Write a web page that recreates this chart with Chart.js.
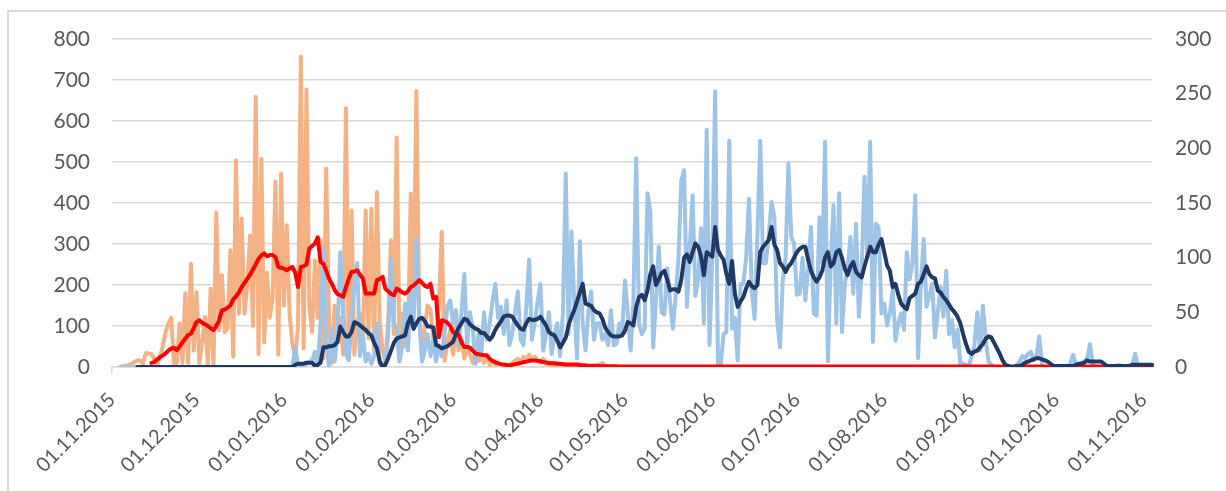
<!DOCTYPE html>
<html>
<head>
<meta charset="utf-8">
<script src="https://cdn.jsdelivr.net/npm/chart.js@4.4.1/dist/chart.umd.min.js"></script>
<style>
  html, body { margin: 0; padding: 0; background: #fff; overflow: hidden; }
  #frame { position: absolute; left: 7px; top: 10px; width: 1240px; height: 500px; border: 2px solid #d9d9d9; box-sizing: border-box; }
  #chart { position: absolute; left: 0; top: 0; }
</style>
</head>
<body>
<div id="frame"></div>
<canvas id="chart" width="1226" height="491"></canvas>
<script>
// daily values, 01.11.2015 .. 04.11.2016 (370 days)

// left axis: daily (orange) and its running average (red)
const orangeDaily = [
  null,null,null,0,2,3,5,8,12,16,
  16,8,34,33,31,20,2,25,50,85,
  105,120,8,10,106,10,180,10,252,40,
  183,10,60,122,5,191,0,376,90,224,
  85,95,285,25,504,130,362,130,200,321,
  100,659,32,508,60,230,120,170,452,30,
  472,150,346,130,57,20,100,757,45,677,
  150,85,260,120,311,20,484,114,10,150,
  60,120,30,631,20,382,30,110,130,60,
  382,70,386,40,427,110,40,15,110,309,
  80,560,55,130,50,60,423,170,673,130,
  25,100,150,140,70,65,150,330,15,60,
  90,30,100,40,70,20,50,30,10,40,
  15,25,10,30,5,15,5,10,3,5,
  2,5,10,15,20,10,25,15,30,20,
  25,15,10,20,8,5,3,5,2,0,
  0,2,0,0,1,0,0,2,0,0,
  0,0,3,6,10,2,0,0,0,0,
  0,0,0,0,0,0,0,0,0,0,
  0,0,0,0,0,0,0,0,0,0,
  0,0,0,0,0,0,0,0,0,0,
  0,0,0,0,0,0,0,0,0,0,
  0,0,0,0,0,0,0,0,0,0,
  0,0,0,0,0,0,0,0,0,0,
  0,0,0,0,0,0,0,0,0,0,
  0,0,0,0,0,0,0,0,0,0,
  0,0,0,0,0,0,0,0,0,0,
  0,0,0,0,0,0,0,0,0,0,
  0,0,0,0,0,0,0,0,0,0,
  0,0,0,0,0,0,0,0,0,0,
  0,0,0,0,0,0,0,0,0,0,
  0,0,0,0,0,0,0,0,0,0,
  0,0,0,0,0,0,0,0,0,0,
  0,0,0,0,0,0,0,0,0,0,
  0,0,0,0,0,0,0,0,0,0,
  0,0,0,0,0,0,2,5,4,1,
  0,0,0,0,0,0,0,0,0,0
];

const redAvg = [
  null,null,null,null,null,null,null,null,null,null,
  null,null,null,null,10,12,18,24,28,33,
  40,45,47,41,50,60,69,78,81,95,
  110,114,108,104,100,95,90,100,114,138,
  140,145,150,165,172,182,195,205,215,225,
  238,250,264,272,277,270,273,273,268,244,
  242,240,236,240,244,230,195,244,246,250,
  289,295,301,316,256,252,235,215,203,188,
  178,175,171,195,215,232,233,236,225,216,
  179,179,179,179,212,215,220,191,185,178,
  175,191,187,182,179,185,195,199,205,212,
  205,198,195,203,167,171,73,114,112,108,
  100,85,83,79,60,49,49,47,40,33,
  31,30,29,28,20,15,12,9,7,6,
  5,4,5,7,8,10,12,13,15,16,
  16,15,14,12,11,10,9,9,8,8,
  7,6,6,6,6,6,5,4,4,3,
  3,3,3,2,2,2,2,2,2,2,
  1,1,1,1,1,1,1,1,1,1,
  1,1,1,1,1,1,1,1,1,1,
  1,1,1,1,1,1,1,1,1,1,
  1,1,1,1,1,1,1,1,1,1,
  1,1,1,1,1,1,1,1,1,1,
  1,1,1,1,1,1,1,1,1,1,
  1,1,1,1,1,1,1,1,1,1,
  1,1,1,1,1,1,1,1,1,1,
  1,1,1,1,1,1,1,1,1,1,
  1,1,1,1,1,1,1,1,1,1,
  1,1,1,1,1,1,1,1,1,1,
  1,1,1,1,1,1,1,1,1,1,
  1,1,1,1,1,1,1,1,1,1,
  1,1,1,1,1,1,1,1,1,1,
  1,1,1,1,1,1,1,1,1,1,
  1,1,1,1,1,1,1,1,1,1,
  1,1,1,1,1,1,1,1,1,1,
  1,1,1,1,1,1,2,2,2,2,
  2,1,1,1,1,1,1,1,1,1
];

// right axis: daily (light blue) and its running average (dark blue)
const blueDaily = [
  null,null,null,0,0,0,0,0,0,0,
  0,0,0,0,0,0,0,0,0,0,
  0,0,0,0,0,0,0,0,0,0,
  0,0,0,0,0,0,0,0,0,0,
  0,0,0,0,0,0,0,0,0,0,
  0,0,0,0,0,0,0,0,0,0,
  0,0,0,0,0,18,2,0,0,3,
  5,6,14,2,40,108,25,0,34,5,
  30,105,50,12,6,40,76,95,10,30,
  5,12,3,10,40,3,0,5,30,98,
  40,35,5,20,58,15,70,40,117,45,
  5,15,30,10,25,5,20,10,30,55,
  61,40,52,20,50,85,20,50,35,3,
  30,10,50,25,40,60,76,45,55,30,
  61,20,30,50,69,25,20,55,98,25,
  40,60,76,15,30,50,12,30,40,10,
  50,177,30,124,60,8,115,40,15,50,
  69,25,40,40,25,30,20,52,20,21,
  40,30,79,50,15,60,191,40,30,35,
  159,143,18,60,110,50,48,90,60,35,
  65,100,171,180,55,110,157,65,80,127,
  40,217,20,100,252,2,3,30,32,207,
  35,45,6,76,76,100,154,70,44,120,
  207,95,95,120,151,137,43,18,79,100,
  186,119,113,66,67,100,61,90,128,49,
  47,137,95,206,5,95,148,40,159,32,
  76,90,119,67,131,46,88,174,100,206,
  23,131,128,49,58,38,49,70,24,40,
  49,34,105,80,95,157,8,76,117,55,
  65,76,27,50,73,46,88,30,43,18,
  34,3,3,2,0,10,20,50,15,56,
  25,5,2,0,0,0,0,0,0,0,
  0,2,5,10,8,12,14,6,10,28,
  2,0,0,0,0,0,0,0,0,0,
  3,11,2,0,4,5,8,21,2,0,
  0,0,0,0,0,0,0,0,0,0,
  0,0,2,12,1,0,0,0,0,0
];

const blueAvg = [
  null,null,null,null,null,null,null,null,null,0,
  0,0,0,0,0,0,0,0,0,0,
  0,0,0,0,0,0,0,0,0,0,
  0,0,0,0,0,0,0,0,0,0,
  0,0,0,0,0,0,0,0,0,0,
  0,0,0,0,0,0,0,0,0,0,
  0,0,0,0,0,2,3,3,3,4,
  4,4,1,2,4,18,18,19,19,20,
  23,37,32,28,28,32,41,40,38,36,
  34,31,29,22,17,5,0,2,8,15,
  22,26,27,28,29,40,46,35,40,44,
  45,42,37,37,36,20,19,17,18,19,
  21,23,30,36,40,44,43,39,37,35,
  34,31,31,28,25,28,34,38,42,46,
  47,47,46,42,38,35,34,40,44,43,
  43,44,46,42,38,32,30,29,24,18,
  22,27,38,46,52,60,68,76,58,57,
  56,52,50,49,44,36,32,29,28,28,
  28,29,33,41,40,38,55,64,66,61,
  70,85,92,75,80,86,88,80,70,71,
  71,69,80,100,103,96,105,113,110,101,
  84,105,103,101,128,107,102,98,85,76,
  97,67,55,60,64,72,78,74,72,75,
  105,110,113,116,128,112,107,95,92,87,
  92,95,100,105,108,110,110,98,88,82,
  78,82,88,100,105,92,95,105,107,100,
  90,84,92,96,87,84,82,92,101,110,
  105,105,112,117,105,93,88,73,76,66,
  58,55,53,63,65,67,76,78,85,92,
  85,82,81,70,68,64,61,57,53,50,
  46,40,30,21,14,12,14,15,18,21,
  26,28,27,22,17,12,6,2,1,0,
  0,1,1,2,4,5,6,7,8,8,
  7,6,5,3,1,1,1,1,1,1,
  1,1,2,3,3,4,6,5,5,5,
  5,5,3,1,1,1,1,1,1,1,
  1,1,2,2,2,2,2,2,2,2
];

// category labels dd.mm.yyyy, one per day
const dayLabels = [];
for (let i = 0; i < orangeDaily.length; i++) {
  const d = new Date(2015, 10, 1 + i);
  dayLabels.push(String(d.getDate()).padStart(2, '0') + '.' +
                 String(d.getMonth() + 1).padStart(2, '0') + '.' + d.getFullYear());
}
const isMonthStart = i => dayLabels[i] !== undefined && dayLabels[i].startsWith('01.');

const GRID = '#d9d9d9';
const TEXT = '#595959';

function series(label, data, color, axis) {
  return {
    label, data, yAxisID: axis,
    borderColor: color, backgroundColor: color,
    borderWidth: 4, pointRadius: 0, tension: 0, fill: false,
    borderCapStyle: 'round', borderJoinStyle: 'round'
  };
}

function draw() {
  Chart.defaults.font.family = 'Lato, "Open Sans", sans-serif';
  Chart.defaults.color = TEXT;

  const ctx = document.getElementById('chart').getContext('2d');
  new Chart(ctx, {
    type: 'line',
    data: {
      labels: dayLabels,
      // first dataset is drawn on top
      datasets: [
        series('Blue average', blueAvg, '#203864', 'y1'),
        series('Orange average', redAvg, '#ff0000', 'y'),
        series('Blue daily', blueDaily, '#9dc3e6', 'y1'),
        series('Orange daily', orangeDaily, '#f4b183', 'y')
      ]
    },
    options: {
      responsive: false,
      animation: false,
      layout: { padding: { top: 39, left: 0, right: 0, bottom: 0 } },
      plugins: { legend: { display: false }, tooltip: { enabled: false } },
      scales: {
        x: {
          ticks: {
            autoSkip: false, minRotation: 45, maxRotation: 45,
            padding: 14, labelOffset: 0,
            font: { size: 20 },
            callback: (v, i) => isMonthStart(i) ? dayLabels[i] : null
          },
          grid: {
            drawOnChartArea: false, tickLength: 7, lineWidth: 1.5,
            color: c => isMonthStart(c.index) ? GRID : 'rgba(0,0,0,0)'
          },
          border: { color: GRID, width: 1.5 },
          afterFit: s => { s.height = 124; }
        },
        y: {
          position: 'left', min: 0, max: 800,
          ticks: { stepSize: 100, padding: 22, font: { size: 21 } },
          grid: { color: GRID, lineWidth: 1.5, drawTicks: false },
          border: { display: false },
          afterFit: s => { s.width = 112; }
        },
        y1: {
          position: 'right', min: 0, max: 300,
          ticks: { stepSize: 50, padding: 23, font: { size: 21 } },
          grid: { drawOnChartArea: false, drawTicks: false },
          border: { display: false },
          afterFit: s => { s.width = 74; }
        }
      }
    }
  });
}

if (document.fonts && document.fonts.load) {
  document.fonts.load('20px Lato').then(draw, draw);
} else {
  draw();
}
</script>
</body>
</html>
